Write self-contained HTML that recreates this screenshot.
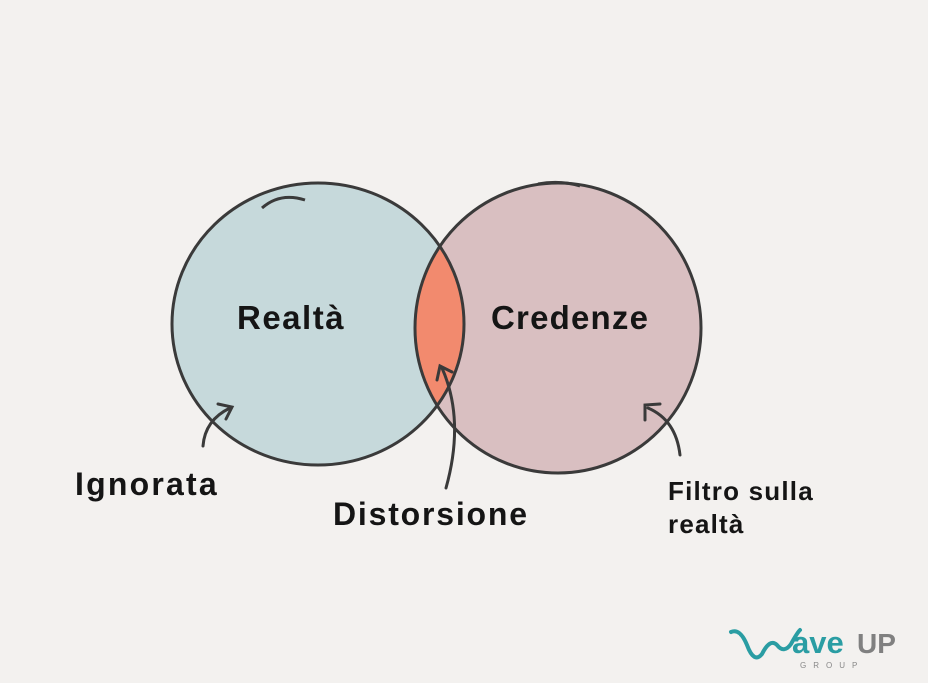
<!DOCTYPE html>
<html><head><meta charset="utf-8"><style>
html,body{margin:0;padding:0;background:#f3f1ef;}
svg{display:block}
text{font-family:"Liberation Sans",sans-serif;font-weight:bold;fill:#151515}
</style></head><body>
<svg width="928" height="683" viewBox="0 0 928 683">
<rect width="928" height="683" fill="#f3f1ef"/>
<defs>
<clipPath id="cl"><ellipse cx="318" cy="324" rx="146" ry="141"/></clipPath>
</defs>
<ellipse cx="318" cy="324" rx="146" ry="141" fill="#c6d9db"/>
<ellipse cx="558" cy="328" rx="143" ry="145" fill="#d9bfc1"/>
<ellipse cx="558" cy="328" rx="143" ry="145" fill="#f28a6e" clip-path="url(#cl)"/>
<ellipse cx="318" cy="324" rx="146" ry="141" fill="none" stroke="#3a3a3a" stroke-width="3"/>
<ellipse cx="558" cy="328" rx="143" ry="145" fill="none" stroke="#3a3a3a" stroke-width="3"/>
<path d="M262 208 Q280 192 305 200" fill="none" stroke="#3a3a3a" stroke-width="3"/>
<path d="M538 184 Q560 180 580 186" fill="none" stroke="#3a3a3a" stroke-width="3"/>
<g fill="none" stroke="#3a3a3a" stroke-width="3" stroke-linecap="round">
<path d="M203 446 Q205 420 230 408"/><path d="M218 404 L232 407 L226 419"/>
<path d="M446 488 Q465 420 442 368"/><path d="M437 380 L440 366 L452 372"/>
<path d="M680 455 Q676 420 648 408"/><path d="M645 420 L645 405 L660 404"/>
</g>
<text x="237" y="329" font-size="33" letter-spacing="1.5">Realtà</text>
<text x="491" y="329" font-size="33" letter-spacing="1.2">Credenze</text>
<text x="75" y="495" font-size="32" letter-spacing="2.2">Ignorata</text>
<text x="333" y="525" font-size="32" letter-spacing="1.8">Distorsione</text>
<text x="668" y="500" font-size="26" letter-spacing="1.2">Filtro sulla</text>
<text x="668" y="533" font-size="26" letter-spacing="1.2">realtà</text>
<!-- logo -->
<path d="M731 632 Q740 628 747 645 Q754 664 762 654 Q770 638 777 645 Q784 654 791 644 Q797 633 800 630" fill="none" stroke="#2a9da3" stroke-width="4" stroke-linecap="round"/>
<text x="792" y="653" font-size="31" style="fill:#2a9da3">ave</text>
<text x="857" y="653" font-size="28" style="fill:#808080">UP</text>
<text x="800" y="668" font-size="8" letter-spacing="7" style="fill:#888;font-weight:normal">GROUP</text>
</svg>
</body></html>
